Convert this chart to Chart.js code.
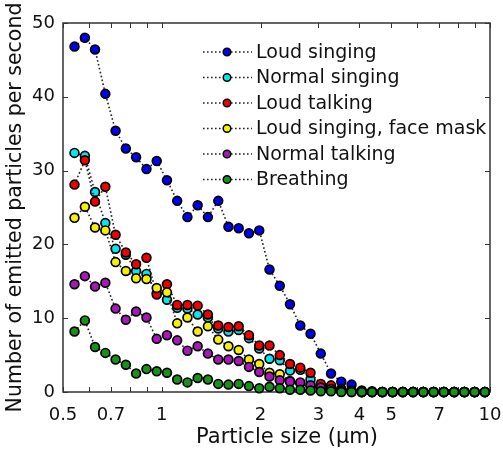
<!DOCTYPE html>
<html>
<head>
<meta charset="utf-8">
<script src="https://cdn.jsdelivr.net/npm/chart.js@4.4.1/dist/chart.umd.min.js"></script>
<style>
  html, body { margin: 0; padding: 0; background: #fff; }
</style>
</head>
<body>
<canvas id="chart" width="503" height="452"></canvas>
<script>
// particle size bins (um)
const sizes = [0.542, 0.583, 0.626, 0.673, 0.723, 0.777, 0.835, 0.898, 0.965, 1.037,
    1.114, 1.197, 1.286, 1.382, 1.486, 1.596, 1.715, 1.843, 1.981, 2.129,
    2.288, 2.458, 2.642, 2.839, 3.051, 3.278, 3.523, 3.786, 4.068, 4.371,
    4.698, 5.048, 5.425, 5.829, 6.264, 6.732, 7.234, 7.774, 8.354, 8.977, 9.647];

const seriesNames = ["Loud singing", "Normal singing", "Loud talking",
    "Loud singing, face mask", "Normal talking", "Breathing"];

const loudSinging = [46.8, 48.0, 46.4, 40.4, 35.4, 33.0, 31.8, 30.2, 31.3, 28.7,
    25.9, 23.7, 25.3, 23.7, 25.9, 22.4, 22.2, 21.5, 21.9, 16.6,
    14.4, 11.9, 9.0, 7.9, 5.2, 2.5, 1.4, 1.0, 0.2, 0.1,
    0, 0, 0, 0, 0, 0, 0, 0, 0, 0, 0];
const normalSinging = [32.4, 32.0, 27.1, 22.9, 19.4, 18.6, 16.4, 16.0, 13.4, 12.5,
    11.4, 11.3, 10.5, 10.1, 8.6, 8.2, 8.4, 7.3, 5.9, 4.5,
    4.3, 2.9, 3.0, 1.7, 0.9, 0.5, 0.3, 0.1, 0, 0,
    0, 0, 0, 0, 0, 0, 0, 0, 0, 0, 0];
const loudTalking = [28.1, 31.4, 25.8, 27.8, 21.3, 18.9, 17.3, 18.2, 13.2, 14.6,
    11.8, 11.8, 11.7, 10.5, 9.0, 8.8, 8.9, 7.7, 6.3, 6.3,
    5.0, 3.8, 3.3, 2.6, 1.1, 0.9, 0.4, 0.2, 0, 0,
    0, 0, 0, 0, 0, 0, 0, 0, 0, 0, 0];
const loudMask = [23.6, 25.1, 22.3, 21.9, 17.6, 16.4, 15.4, 15.3, 14.1, 13.5,
    9.3, 10.1, 8.2, 8.9, 7.1, 6.2, 5.7, 4.4, 3.8, 2.6,
    2.4, 1.5, 1.2, 0.8, 0.4, 0.2, 0.1, 0, 0, 0,
    0, 0, 0, 0, 0, 0, 0, 0, 0, 0, 0];
const normalTalking = [14.6, 15.7, 14.3, 14.8, 11.3, 9.8, 10.9, 10.1, 7.2, 7.7,
    7.0, 5.6, 6.2, 5.2, 4.4, 4.4, 4.2, 3.4, 2.7, 2.1,
    1.6, 1.4, 1.3, 0.9, 0.6, 0.4, 0.2, 0.1, 0, 0,
    0, 0, 0, 0, 0, 0, 0, 0, 0, 0, 0];
const breathing = [8.2, 9.7, 6.1, 5.3, 4.4, 3.7, 2.5, 3.1, 2.8, 2.6,
    1.7, 1.3, 1.9, 1.7, 1.1, 1.0, 1.1, 0.8, 0.5, 0.7,
    0.5, 0.3, 0.3, 0.2, 0.1, 0.1, 0, 0, 0, 0,
    0, 0, 0, 0, 0, 0, 0, 0, 0, 0, 0];

const xLabelTicks = [0.5, 0.7, 1, 2, 3, 4, 5, 7, 10];
const xAllTicks = [0.5, 0.6, 0.7, 0.8, 0.9, 1, 2, 3, 4, 5, 6, 7, 8, 9, 10];
const yTicks = [0, 10, 20, 30, 40, 50];
const xTitle = "Particle size (µm)";
const yTitle = "Number of emitted particles per second";

const allSeries = [loudSinging, normalSinging, loudTalking, loudMask, normalTalking, breathing];
const colors = ["#0000f0", "#00e8f0", "#f00000", "#f8f000", "#a818b8", "#18901c"];

const FONT = "'DejaVu Sans', Verdana, sans-serif";

const datasets = allSeries.map((vals, i) => ({
    label: seriesNames[i],
    data: sizes.map((x, j) => ({ x: x, y: vals[j] })),
    borderColor: "#222",
    borderWidth: 1.6,
    borderDash: [1.6, 2.4],
    pointRadius: 4.4,
    pointBorderWidth: 1.7,
    pointBorderColor: "#000",
    pointBackgroundColor: colors[i],
    clip: false,
    // first series underneath, breathing on top
    order: allSeries.length - i
}));

// box, inward ticks, x title and the in-plot legend
const framePlugin = {
    id: "frame",
    beforeDatasetsDraw(chart) {
        const ctx = chart.ctx;
        const a = chart.chartArea;
        const xs = chart.scales.x, ys = chart.scales.y;
        ctx.save();
        ctx.strokeStyle = "#333";
        ctx.lineWidth = 1.5;
        ctx.strokeRect(a.left, a.top, a.right - a.left, a.bottom - a.top);
        ctx.lineWidth = 1;
        ctx.beginPath();
        xAllTicks.forEach(v => {
            const px = Math.round(xs.getPixelForValue(v)) + 0.5;
            ctx.moveTo(px, a.bottom); ctx.lineTo(px, a.bottom - 5);
            ctx.moveTo(px, a.top); ctx.lineTo(px, a.top + 5);
        });
        yTicks.forEach(v => {
            const py = Math.round(ys.getPixelForValue(v)) + 0.5;
            ctx.moveTo(a.left, py); ctx.lineTo(a.left + 5, py);
            ctx.moveTo(a.right, py); ctx.lineTo(a.right - 5, py);
        });
        ctx.stroke();
        ctx.restore();
    },
    afterDraw(chart) {
        const ctx = chart.ctx;
        ctx.save();
        // x axis title sits a little right of the axis centre in the original
        ctx.fillStyle = "#111";
        ctx.font = "21px " + FONT;
        ctx.textAlign = "center";
        ctx.textBaseline = "middle";
        ctx.fillText(xTitle, 287, 438);

        const lx = 203, y0 = 52, rowH = 25.5;
        ctx.textAlign = "left";
        chart.data.datasets.forEach((ds, i) => {
            const y = y0 + i * rowH;
            ctx.strokeStyle = "#222";
            ctx.lineWidth = 1.6;
            ctx.setLineDash([1.6, 2.4]);
            ctx.beginPath();
            ctx.moveTo(lx, y); ctx.lineTo(lx + 49, y);
            ctx.stroke();
            ctx.setLineDash([]);
            ctx.beginPath();
            ctx.arc(lx + 24, y, 3.8, 0, Math.PI * 2);
            ctx.fillStyle = ds.pointBackgroundColor;
            ctx.fill();
            ctx.lineWidth = 1.5;
            ctx.strokeStyle = "#000";
            ctx.stroke();
            ctx.fillStyle = "#111";
            ctx.font = "19px " + FONT;
            ctx.fillText(ds.label, lx + 53, y + 1);
        });
        ctx.restore();
    }
};

new Chart(document.getElementById("chart"), {
    type: "line",
    data: { datasets: datasets },
    options: {
        responsive: false,
        animation: false,
        layout: { padding: { top: 23, right: 13, left: 0, bottom: 0 } },
        plugins: {
            legend: { display: false },
            tooltip: { enabled: false }
        },
        scales: {
            x: {
                type: "logarithmic",
                min: 0.5,
                max: 10,
                afterBuildTicks: scale => {
                    scale.ticks = xLabelTicks.map(v => ({ value: v }));
                },
                afterFit: scale => {
                    scale.height = 60;
                    scale.paddingLeft = 0;
                    scale.paddingRight = 0;
                },
                grid: { display: false, drawTicks: false },
                border: { display: false },
                ticks: {
                    autoSkip: false,
                    maxRotation: 0,
                    padding: 13,
                    color: "#111",
                    font: { family: FONT, size: 18 },
                    callback: v => String(v)
                }
            },
            y: {
                min: 0,
                max: 50,
                afterBuildTicks: scale => {
                    scale.ticks = yTicks.map(v => ({ value: v }));
                },
                afterFit: scale => { scale.width = 63; },
                grid: { display: false, drawTicks: false },
                border: { display: false },
                ticks: {
                    padding: 8,
                    color: "#111",
                    font: { family: FONT, size: 18 }
                },
                title: {
                    display: true,
                    text: yTitle,
                    color: "#111",
                    font: { family: FONT, size: 20.5 },
                    padding: { top: 3, bottom: 0 }
                }
            }
        }
    },
    plugins: [framePlugin]
});
</script>
</body>
</html>
